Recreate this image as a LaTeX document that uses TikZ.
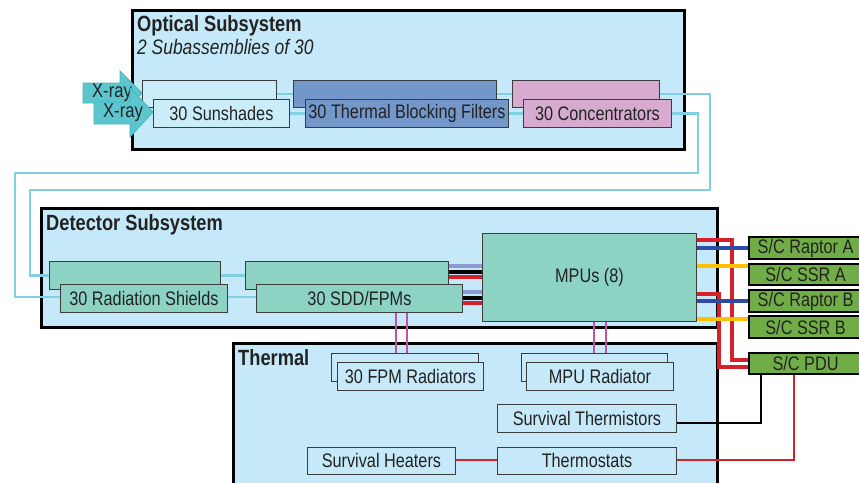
\documentclass[tikz,border=0pt]{standalone}
\usepackage{fontspec}
\setmainfont{Liberation Sans}[FakeStretch=0.83]
\pgfdeclarelayer{panels}
\pgfdeclarelayer{wires}
\pgfsetlayers{panels,wires,main}
\definecolor{panelfill}{HTML}{C5E9F8}
\definecolor{sunfill}{HTML}{CBEDFA}
\definecolor{filterfill}{HTML}{7397C9}
\definecolor{concfill}{HTML}{D7ABD0}
\definecolor{detfill}{HTML}{8DD3C4}
\definecolor{scfill}{HTML}{70AD47}
\definecolor{boxedge}{HTML}{3C3C3C}
\definecolor{txt}{HTML}{222222}
\definecolor{cyanwire}{HTML}{7FD1E1}
\definecolor{lavwire}{HTML}{8C9BD6}
\definecolor{redwire}{HTML}{D6202A}
\definecolor{bluewire}{HTML}{2E4BA6}
\definecolor{yelwire}{HTML}{FFC000}
\definecolor{magwire}{HTML}{C252A9}
\definecolor{arrowfill}{HTML}{5CC6CF}
\definecolor{arrowedge}{HTML}{45B4BE}
\begin{document}
\begin{tikzpicture}[x=1pt,y=-1pt,
  font=\fontsize{19.6}{22}\selectfont, text=txt,
  sz/.style 2 args={minimum width=#1pt, minimum height=#2pt},
  panel/.style={draw=black, line width=2.6pt, fill=panelfill, anchor=north west, inner sep=0pt},
  title/.style={anchor=base west, inner sep=0pt, font=\fontsize{22}{24}\selectfont\bfseries},
  subtitle/.style={anchor=base west, inner sep=0pt, font=\fontsize{21}{24}\selectfont\itshape},
  box/.style={draw=boxedge, line width=0.9pt, anchor=north west, inner sep=0pt, align=center},
  sunbox/.style={box, fill=sunfill},
  filterbox/.style={box, fill=filterfill},
  concbox/.style={box, fill=concfill},
  detbox/.style={box, fill=detfill},
  thbox/.style={box, fill=panelfill},
  scbox/.style={draw=black, line width=2.2pt, fill=scfill, anchor=north west, inner sep=0pt},
  cyanw/.style={draw=cyanwire, line width=2.7pt},
  thinw/.style={line width=3.3pt},
  strap/.style={line width=2.6pt, magwire},
  xray/.style={fill=arrowfill, draw=arrowedge, line width=0.8pt, line join=miter},
  xtext/.style={inner sep=0pt, font=\fontsize{20}{22}\selectfont}]
\useasboundingbox (0,0) rectangle (859,482);

% subsystem panels
\begin{pgfonlayer}{panels}
\node[panel, sz={552}{139}] (optical) at (131,9) {};
\node[panel, sz={676}{119}] (detector) at (40,207) {};
\node[panel, sz={484}{150}] (thermal) at (232,342) {};
\end{pgfonlayer}
\node[title] (optT) at (137,31.5) {Optical Subsystem};
\node[subtitle] (optS) at (137,54) {2 Subassemblies of 30};
\node[title] (detT) at (46,230) {Detector Subsystem};
\node[title] (thT) at (238,365) {Thermal};

% optical chain (two stacked subassemblies)
\node[sunbox, sz={134}{27}] (ssB) at (142,80) {};
\node[filterbox, sz={203}{27}] (tbB) at (293,80) {};
\node[concbox, sz={147}{27}] (cB) at (512,80) {};
\node[sunbox, sz={136}{28}] (ssF) at (153,99) {30 Sunshades};
\node[filterbox, sz={203}{28}] (tbF) at (305,99) {30 Thermal Blocking Filters};
\node[concbox, sz={148}{28}] (cF) at (523,99) {30 Concentrators};

% detector subsystem
\node[detbox, sz={171}{28}] (rsB) at (49,261) {};
\node[detbox, sz={203}{28}] (sddB) at (245,261) {};
\node[detbox, sz={167}{28}] (rsF) at (60,284) {30 Radiation Shields};
\node[detbox, sz={206}{28}] (sddF) at (256,284) {30 SDD/FPMs};
\node[detbox, sz={214}{88}] (mpu) at (482,233) {MPUs (8)};

% spacecraft interfaces
\node[scbox, sz={113}{22}] (rapA) at (748,236) {S/C Raptor A};
\node[scbox, sz={113}{21}] (ssrA) at (748,263) {S/C SSR A};
\node[scbox, sz={113}{22}] (rapB) at (748,289) {S/C Raptor B};
\node[scbox, sz={113}{22}] (ssrB) at (748,315) {S/C SSR B};
\node[scbox, sz={113}{21}] (pdu) at (748,352) {S/C PDU};

% thermal subsystem
\node[thbox, sz={147}{28}] (fpmB) at (331,353) {};
\node[thbox, sz={146}{28}] (fpmF) at (337,362) {30 FPM Radiators};
\node[thbox, sz={146}{28}] (mrB) at (521,353) {};
\node[thbox, sz={147}{28}] (mrF) at (526,362) {MPU Radiator};
\node[thbox, sz={179}{28}] (therm) at (497,404) {Survival Thermistors};
\node[thbox, sz={148}{27}] (heat) at (307,447) {Survival Heaters};
\node[thbox, sz={179}{27}] (tstat) at (497,447) {Thermostats};

% bend points of the optical-to-detector harness
\coordinate (ro) at (710,190);
\coordinate (lo) at (30,190);
\coordinate (ri) at (698,173);
\coordinate (li) at (15,173);

\begin{pgfonlayer}{wires}
% optical path
\draw[cyanw] (ssB.east) -- (tbB.west);
\draw[cyanw] (tbB.east) -- (cB.west);
\draw[cyanw] (ssF.east) -- (tbF.west);
\draw[cyanw] (tbF.east) -- (cF.west);
\draw[cyanw] (cB.east) -| (ro) -- (lo) |- (rsB.west);
\draw[cyanw] (cF.east) -| (ri) -- (li) |- (rsF.west |- 0,297);
\draw[cyanw] (rsB.east) -- (sddB.west);
\draw[cyanw] (rsF.east |- 0,297) -- (sddF.west |- 0,297);
% SDD to MPU harnesses
\draw[thinw, lavwire] (sddB.east |- 0,266) -- (mpu.west |- 0,266);
\draw[thinw, black]   (sddB.east |- 0,272) -- (mpu.west |- 0,272);
\draw[thinw, redwire] (sddB.east |- 0,277) -- (mpu.west |- 0,277);
\draw[thinw, lavwire] (sddF.east |- 0,292) -- (mpu.west |- 0,292);
\draw[thinw, black]   (sddF.east |- 0,298) -- (mpu.west |- 0,298);
\draw[thinw, redwire] (sddF.east |- 0,303) -- (mpu.west |- 0,303);
% thermal straps
\draw[strap] (sddF.south -| 396,0) -- (fpmB.north -| 396,0);
\draw[strap] (sddF.south -| 407,0) -- (fpmB.north -| 407,0);
\draw[strap] (mpu.south -| 594,0) -- (mrB.north -| 594,0);
\draw[strap] (mpu.south -| 606,0) -- (mrB.north -| 606,0);
% MPU to spacecraft
\draw[thinw, redwire] (mpu.east |- 0,240) -- (732,240) |- (pdu.west |- 0,360);
\draw[thinw, redwire] (mpu.east |- 0,294) -- (719,294) |- (pdu.west |- 0,367);
\draw[thinw, bluewire] (mpu.east |- 0,248) -- (rapA.west |- 0,248);
\draw[thinw, yelwire] (mpu.east |- 0,266) -- (ssrA.west |- 0,266);
\draw[thinw, bluewire] (mpu.east |- 0,301) -- (rapB.west |- 0,301);
\draw[thinw, yelwire] (mpu.east |- 0,319) -- (ssrB.west |- 0,319);
% survival power and telemetry
\draw[line width=2.6pt, redwire] (heat.east |- 0,460) -- (tstat.west |- 0,460);
\draw[line width=2.6pt, black] (therm.east |- 0,423) -| (pdu.south -| 761,0);
\draw[line width=2.6pt, redwire] (tstat.east |- 0,460) -| (pdu.south -| 794,0);
\end{pgfonlayer}

% incoming X-rays
\path[xray] (83,83) -- (120,83) -- (120,71) -- (142,93) -- (120,115) -- (120,103) -- (83,103) -- cycle;
\node[xtext] (xr1) at (112,93) {X-ray};
\path[xray] (94,102) -- (130,102) -- (130,88) -- (153,112) -- (130,137) -- (130,124) -- (94,124) -- cycle;
\node[xtext] (xr2) at (123,113) {X-ray};
\end{tikzpicture}
\end{document}
